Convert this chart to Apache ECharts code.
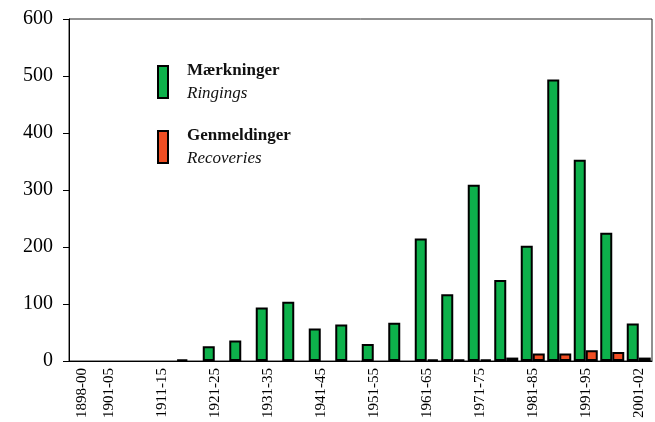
<!DOCTYPE html>
<html>
<head>
<meta charset="utf-8">
<script src="https://cdn.jsdelivr.net/npm/echarts@6/dist/echarts.min.js"></script>
<style>
  html, body { margin: 0; padding: 0; background: #fff; }
  #chart { width: 655px; height: 422px; }
</style>
</head>
<body>
<div id="chart"></div>
<script>
const periods = ['1898-00', '1901-05', '1906-10', '1911-15', '1916-20', '1921-25', '1926-30',
  '1931-35', '1936-40', '1941-45', '1946-50', '1951-55', '1956-60', '1961-65', '1966-70',
  '1971-75', '1976-80', '1981-85', '1986-90', '1991-95', '1996-00', '2001-02'];
const ringings = [0, 0, 0, 0, 3, 26, 36, 94, 104, 57, 64, 30, 67, 215, 117, 309, 142, 202, 494, 353, 225, 66];
const recoveries = [0, 0, 0, 0, 0, 0, 0, 0, 0, 0, 0, 0, 0, 3, 3, 3, 6, 13, 13, 19, 16, 6];
const seriesNames = ['Mærkninger', 'Genmeldinger'];
const seriesSubtitles = ['Ringings', 'Recoveries'];
const yTicks = [0, 100, 200, 300, 400, 500, 600];

const font = 'Liberation Serif';
const chart = echarts.init(document.getElementById('chart'));

// empty periods are left out so no zero-height border line is drawn
const noZero = arr => arr.map(v => (v === 0 ? null : v));

const option = {
  animation: false,
  textStyle: { fontFamily: font, color: '#000' },
  grid: {
    left: 69, right: 3, top: 19, bottom: 61,
    show: true, borderColor: '#222', borderWidth: 1
  },
  legend: {
    orient: 'vertical',
    left: 157,
    top: 62,
    padding: 0,
    icon: 'rect',
    itemWidth: 10,
    itemHeight: 32,
    itemGap: 25,
    data: seriesNames,
    formatter: name => {
      const i = seriesNames.indexOf(name);
      return '{b|' + name + '}\n{i|' + seriesSubtitles[i] + '}';
    },
    textStyle: {
      rich: {
        b: { fontFamily: font, fontWeight: 'bold', fontSize: 17, lineHeight: 23, padding: [0, 0, 0, 14], color: '#111' },
        i: { fontFamily: font, fontStyle: 'italic', fontSize: 17, lineHeight: 23, padding: [0, 0, 0, 14], color: '#111' }
      }
    }
  },
  xAxis: {
    type: 'category',
    data: periods,
    axisLine: { lineStyle: { color: '#000', width: 1 } },
    axisTick: { interval: 0, length: 6, lineStyle: { color: '#000' } },
    axisLabel: {
      rotate: 90,
      margin: 7,
      fontSize: 15,
      fontFamily: font,
      color: '#000',
      interval: i => i === 0 || i % 2 === 1
    }
  },
  yAxis: {
    type: 'value',
    min: yTicks[0],
    max: yTicks[yTicks.length - 1],
    interval: 100,
    splitLine: { show: false },
    axisLine: { show: true, lineStyle: { color: '#000', width: 1 } },
    axisTick: { show: true, length: 6, lineStyle: { color: '#000' } },
    axisLabel: { fontSize: 20, fontFamily: font, color: '#000', margin: 16 }
  },
  series: [
    {
      name: seriesNames[0],
      type: 'bar',
      data: noZero(ringings),
      barWidth: 12,
      barGap: '0%',
      itemStyle: { color: '#0db14b', borderColor: '#000', borderWidth: 2 }
    },
    {
      name: seriesNames[1],
      type: 'bar',
      data: noZero(recoveries),
      barWidth: 12,
      itemStyle: { color: '#f04e23', borderColor: '#000', borderWidth: 2 }
    }
  ]
};

chart.setOption(option);
</script>
</body>
</html>
